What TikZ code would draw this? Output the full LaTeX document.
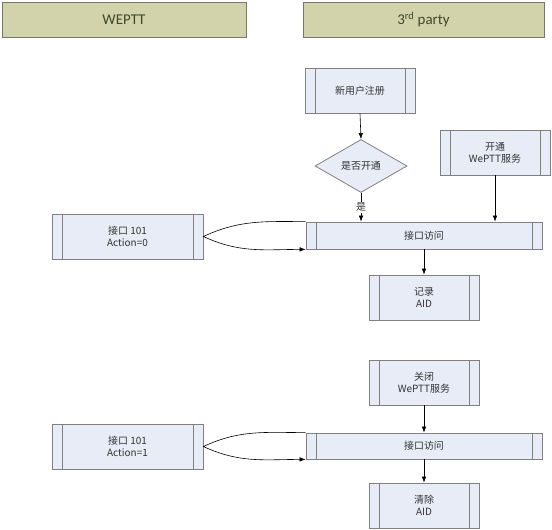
\documentclass[tikz,border=0pt]{standalone}
\usepackage{fontspec}
\setmainfont{Carlito}
\newfontfamily\cjk{Noto Sans CJK SC}
\usetikzlibrary{shapes.geometric,arrows.meta}
\definecolor{headfill}{HTML}{D3D3AB}
\definecolor{headline}{HTML}{75786A}
\definecolor{headtext}{HTML}{3B4A25}
\definecolor{boxfill}{HTML}{E7ECF6}
\definecolor{boxline}{HTML}{808080}
\definecolor{boxtext}{HTML}{333333}

\begin{document}
\begin{tikzpicture}[x=1bp,y=-1bp,>={Latex[length=6bp,width=4.5bp]},
  head/.style={draw=headline,line width=0.8bp,fill=headfill,text=headtext,minimum width=#1,minimum height=35bp,font=\fontsize{15}{18}\selectfont},
  proc/.style={draw=boxline,line width=0.8bp,fill=boxfill,text=boxtext,minimum width=#1,minimum height=45bp,align=center,inner sep=1bp,font=\cjk\fontsize{10}{12}\selectfont,
    path picture={
      \draw[boxline,line width=0.8bp] ([xshift=10bp]path picture bounding box.north west) -- ([xshift=10bp]path picture bounding box.south west);
      \draw[boxline,line width=0.8bp] ([xshift=-10bp]path picture bounding box.north east) -- ([xshift=-10bp]path picture bounding box.south east);}},
  proc/.default=110bp,
  flow/.style={line width=0.6bp,->}]
\useasboundingbox (0,0) rectangle (552,530);

% lanes
\node[head=244bp] (lane1) at (124,19.5) {WEPTT};
\node[head=241bp] (lane2) at (423.5,19.5) {3\textsuperscript{rd} party};

% open service
\node[proc] (reg) at (360,90.5) {新用户注册};
\node[diamond,draw=boxline,line width=0.8bp,fill=boxfill,text=boxtext,aspect=1.75,inner sep=0pt,minimum width=92bp,minimum height=53bp,font=\cjk\fontsize{10}{12}\selectfont] (chk) at (361,166) {是否开通};
\node[proc] (open) at (495,152.5) {开通\\WePTT服务};
\node[proc=236bp,minimum height=27bp] (acc1) at (424,235.5) {接口访问};
\node[proc] (rec) at (424,297.5) {记录\\AID};
\node[proc=151bp] (api1) at (127.5,236.5) {接口 101\\Action=0};

\draw[flow] (reg.south) -- (chk.north);
\draw[flow] (chk.south) -- node[fill=white,inner sep=1bp,text=boxtext,font=\cjk\fontsize{10}{12}\selectfont] {是} (chk.south |- acc1.north);
\draw[flow] (open.south) -- (open.south |- acc1.north);
\draw[flow] (acc1.south) -- (rec.north);
\draw[flow] (acc1.north west) to[out=180,in=25] (api1.east) to[out=-25,in=180] (acc1.south west);

% close service
\node[proc] (close) at (424,382.5) {关闭\\WePTT服务};
\node[proc=236bp,minimum height=26bp] (acc2) at (424,446) {接口访问};
\node[proc] (clr) at (424,505.5) {清除\\AID};
\node[proc=151bp] (api2) at (127.5,446.5) {接口 101\\Action=1};

\draw[flow] (close.south) -- (acc2.north);
\draw[flow] (acc2.south) -- (clr.north);
\draw[flow] (acc2.north west) to[out=180,in=25] (api2.east) to[out=-25,in=180] (acc2.south west);
\end{tikzpicture}
\end{document}
